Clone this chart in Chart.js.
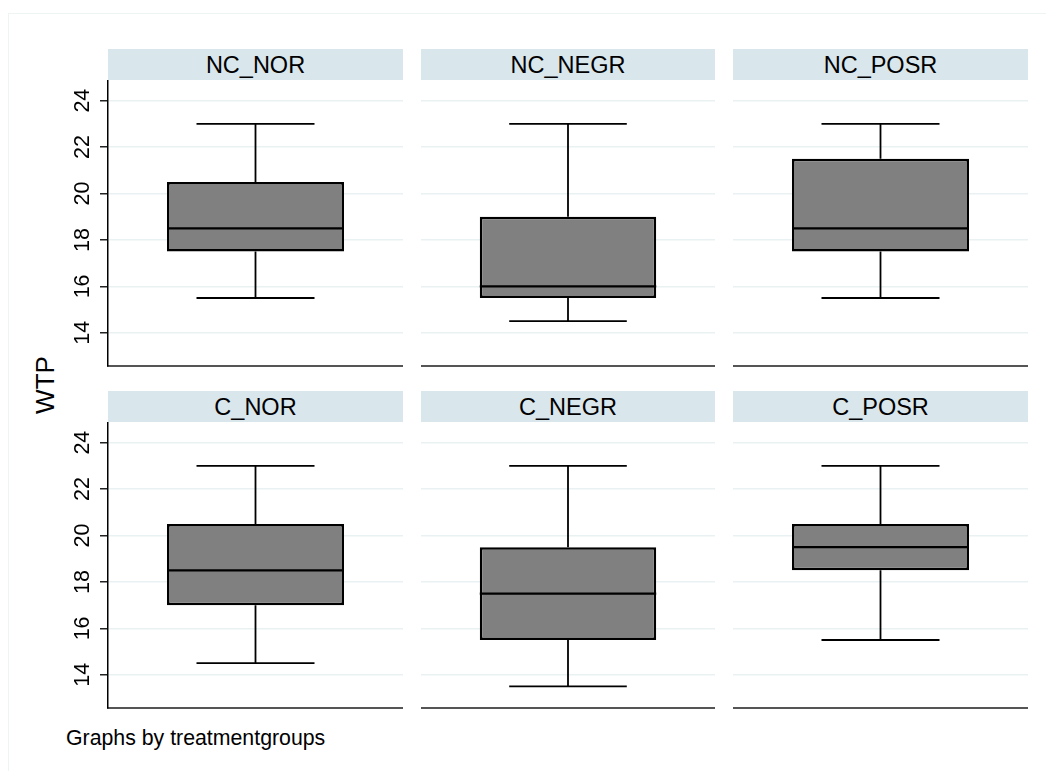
<!DOCTYPE html>
<html>
<head>
<meta charset="utf-8">
<script src="https://cdn.jsdelivr.net/npm/chart.js@4.4.1/dist/chart.umd.min.js"></script>
<style>
  html, body { margin: 0; padding: 0; background: #fff; }
  body { width: 1046px; height: 771px; position: relative; overflow: hidden; font-family: "Liberation Sans", Arial, sans-serif; }
  .frame { position: absolute; left: 8px; top: 13px; width: 1100px; height: 800px; border: 1.5px solid #eef3f4; box-sizing: border-box; }
  .strip { position: absolute; height: 31px; background: #d9e6eb; color: #000; font-size: 23.5px; line-height: 33px; text-align: center; }
  .panel { position: absolute; }
  .ytitle { position: absolute; left: 45px; top: 385px; font-size: 26px; transform: translate(-50%, -50%) rotate(-90deg); white-space: nowrap; }
  .note { position: absolute; left: 66px; top: 726px; font-size: 21.3px; white-space: nowrap; }
</style>
</head>
<body>
<div class="frame"></div>
<div class="ytitle">WTP</div>
<div class="note">Graphs by treatmentgroups</div>

<script>
// Box-plot summary per treatment group
const groups    = ['NC_NOR', 'NC_NEGR', 'NC_POSR', 'C_NOR', 'C_NEGR', 'C_POSR'];
const whiskerLo = [15.5, 14.5, 15.5, 14.5, 13.5, 15.5];
const q1        = [17.5, 15.5, 17.5, 17.0, 15.5, 18.5];
const median    = [18.5, 16.0, 18.5, 18.5, 17.5, 19.5];
const q3        = [20.5, 19.0, 21.5, 20.5, 19.5, 20.5];
const whiskerHi = [23.0, 23.0, 23.0, 23.0, 23.0, 23.0];
const yTicks    = [14, 16, 18, 20, 22, 24];
const Y_MIN = 12.57, Y_MAX = 24.89;

const GRID = '#eaf1f3';
const AXIS_W = 50;

// panel plot areas (px): columns and rows of the 3x2 grid
const COLS = [[108, 403], [421, 715], [733, 1028]];
const ROWS = [[80, 366], [422, 708]];

// whiskers, caps and median on top of the floating box bar
const boxExtras = {
  id: 'boxExtras',
  afterDatasetsDraw(chart) {
    const i = chart.options.plugins.boxExtras.index;
    const y = chart.scales.y;
    const bar = chart.getDatasetMeta(0).data[0];
    const cx = bar.x, half = bar.width / 2, cap = bar.width / 3;
    const ctx = chart.ctx;
    ctx.save();
    ctx.strokeStyle = '#000';
    ctx.lineWidth = 1.8;
    ctx.beginPath();
    ctx.moveTo(cx, y.getPixelForValue(q3[i])); ctx.lineTo(cx, y.getPixelForValue(whiskerHi[i]));
    ctx.moveTo(cx, y.getPixelForValue(q1[i])); ctx.lineTo(cx, y.getPixelForValue(whiskerLo[i]));
    ctx.moveTo(cx - cap, y.getPixelForValue(whiskerHi[i])); ctx.lineTo(cx + cap, y.getPixelForValue(whiskerHi[i]));
    ctx.moveTo(cx - cap, y.getPixelForValue(whiskerLo[i])); ctx.lineTo(cx + cap, y.getPixelForValue(whiskerLo[i]));
    ctx.stroke();
    ctx.lineWidth = 2.2;
    ctx.beginPath();
    ctx.moveTo(cx - half, y.getPixelForValue(median[i])); ctx.lineTo(cx + half, y.getPixelForValue(median[i]));
    ctx.stroke();
    ctx.restore();
  },
};

function makePanel(i) {
  const col = COLS[i % 3], row = ROWS[Math.floor(i / 3)];
  const withAxis = i % 3 === 0;
  const left = withAxis ? col[0] - AXIS_W : col[0];
  const width = col[1] - left;
  const height = row[1] - row[0] + 3;

  const strip = document.createElement('div');
  strip.className = 'strip';
  strip.style.left = col[0] + 'px';
  strip.style.top = (row[0] - 31) + 'px';
  strip.style.width = (col[1] - col[0]) + 'px';
  strip.textContent = groups[i];
  document.body.appendChild(strip);

  const wrap = document.createElement('div');
  wrap.className = 'panel';
  Object.assign(wrap.style, { left: left + 'px', top: row[0] + 'px', width: width + 'px', height: height + 'px' });
  const canvas = document.createElement('canvas');
  canvas.id = 'p' + i;
  wrap.appendChild(canvas);
  document.body.appendChild(wrap);

  new Chart(canvas, {
    type: 'bar',
    data: {
      labels: [groups[i]],
      datasets: [{
        data: [[q1[i], q3[i]]],
        backgroundColor: '#808080',
        borderColor: '#000',
        borderWidth: 2.5,
        borderSkipped: false,
        barPercentage: 0.6,
        categoryPercentage: 1,
      }],
    },
    options: {
      responsive: true,
      maintainAspectRatio: false,
      animation: false,
      layout: { padding: { top: 0, bottom: 3, left: 0, right: 0 } },
      plugins: { legend: { display: false }, tooltip: { enabled: false }, boxExtras: { index: i } },
      scales: {
        x: {
          ticks: { display: false },
          grid: { display: false, drawTicks: false },
          border: { display: true, color: '#555', width: 2 },
        },
        y: {
          min: Y_MIN, max: Y_MAX,
          afterBuildTicks: (s) => { s.ticks = yTicks.map((v) => ({ value: v })); },
          afterFit: (s) => {
            s.width = withAxis ? AXIS_W : 0;
            s.paddingTop = 0; s.paddingBottom = 0;
          },
          ticks: {
            display: withAxis,
            color: '#000',
            font: { family: '"Liberation Sans", Arial, sans-serif', size: 21.5 },
            minRotation: 90, maxRotation: 90,
            crossAlign: 'center',
            padding: 5,
          },
          grid: { color: GRID, lineWidth: 1.5, drawTicks: withAxis, tickLength: 8, tickColor: '#222', tickWidth: 1.5 },
          border: { display: withAxis, color: '#000', width: 1.5 },
        },
      },
    },
    plugins: [boxExtras],
  });
}

groups.forEach((g, i) => makePanel(i));
</script>
</body>
</html>
